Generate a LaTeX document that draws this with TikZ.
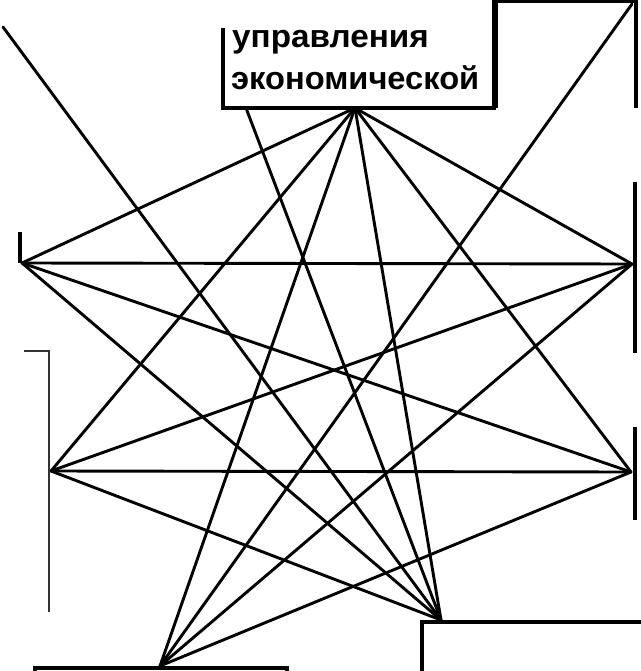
\documentclass[tikz,border=0pt]{standalone}
\usepackage{fontspec}
\setmainfont{Liberation Sans}
\begin{document}
\begin{tikzpicture}[x=1pt,y=-1pt,
  edge/.style={line width=2.9pt, line cap=round},
  frame/.style={line width=3.4pt},
  thinframe/.style={line width=1.6pt, black!80},
  label/.style={anchor=base west, inner sep=0pt, font=\fontsize{32}{38}\selectfont\bfseries}]
\useasboundingbox[fill=white] (0,0) rectangle (640,671);
% hubs
\coordinate (T) at (355,108);
\coordinate (L1) at (22,263);
\coordinate (L2) at (51,471);
\coordinate (R1) at (632,264);
\coordinate (R2) at (631,472);
\coordinate (B1) at (160,666);
\coordinate (B2) at (441,620);
\coordinate (TLc) at (3,27);
\coordinate (TRc) at (632,4);
\coordinate (Tl) at (246,108);
% connectors
\foreach \a/\b in {T/L1,T/L2,T/B1,T/B2,T/R2,T/R1,L1/R1,L1/R2,L1/B2,L2/R1,L2/R2,L2/B2,R1/B1,R2/B1,TLc/B2,TRc/B1,Tl/B2}
  \draw[edge] (\a) -- (\b);
% top box
\draw[frame] (223,28) -- (223,108) -- (494,108) -- (494,0);
% top-right box
\draw[frame] (496,0) -- (496,108);
\draw[frame] (496,1.5) -- (636,1.5) -- (636,108);
% left boxes
\draw[frame] (20,232) -- (20,263);
\draw[thinframe] (24,351) -- (49,351) -- (49,612);
% right boxes
\draw[frame] (635,182) -- (635,353);
\draw[frame] (635,427) -- (635,520);
% bottom boxes
\draw[frame] (35,675) -- (35,668) -- (287,668) -- (287,675);
\draw[frame] (422,675) -- (422,622) -- (642,622);
% text
\node[label, xscale=1.04] (t1) at (232,48) {управления};
\node[label, xscale=1.02] (t2) at (231,90) {экономической};
\end{tikzpicture}
\end{document}
